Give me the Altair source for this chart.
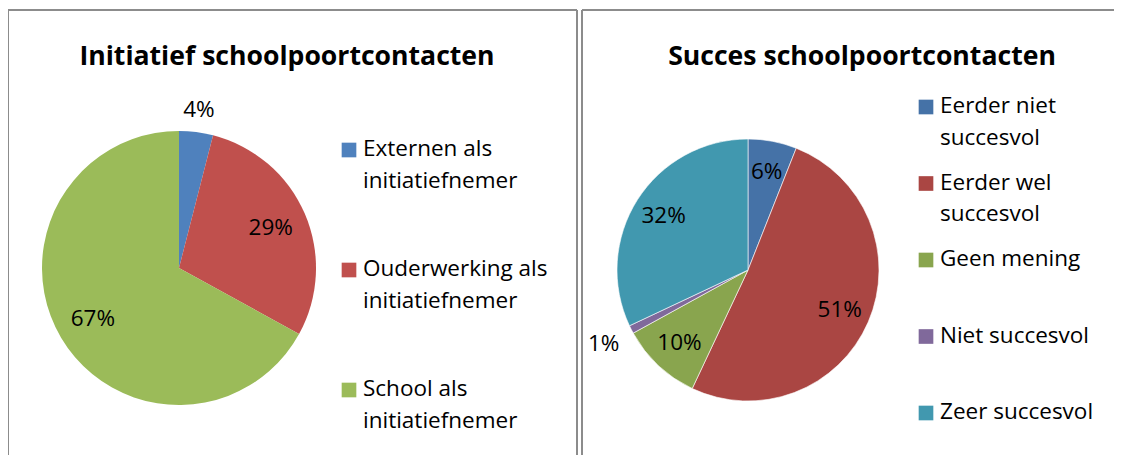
import altair as alt
import pandas as pd

FONT = "Open Sans"

# ---- data ----
left_title = "Initiatief schoolpoortcontacten"
left_cats = ["Externen als initiatiefnemer", "Ouderwerking als initiatiefnemer", "School als initiatiefnemer"]
left_lines = ["Externen als|initiatiefnemer", "Ouderwerking als|initiatiefnemer", "School als|initiatiefnemer"]
left_vals = [4, 29, 67]
left_colors = ["#4F81BD", "#C0504D", "#9BBB59"]

right_title = "Succes schoolpoortcontacten"
right_cats = ["Eerder niet succesvol", "Eerder wel succesvol", "Geen mening", "Niet succesvol", "Zeer succesvol"]
right_lines = ["Eerder niet|succesvol", "Eerder wel|succesvol", "Geen mening", "Niet succesvol", "Zeer succesvol"]
right_vals = [6, 51, 10, 1, 32]
right_colors = ["#4572A7", "#AA4643", "#89A54E", "#80699B", "#4198AF"]

TWO_PI = 6.283185307


def panel(title, cats, lines, vals, colors, cx, cy, r, r_in, r_out,
          tx, ty, lx, ly_range, stroke_w):
    df = pd.DataFrame({"cat": cats, "lines": lines, "val": vals,
                       "idx": list(range(len(cats)))})
    df["lbl"] = df["val"].astype(str) + "%"
    base = alt.Chart(df)
    color = alt.Color("cat:N", scale=alt.Scale(domain=cats, range=colors), legend=None)
    tscale = alt.Scale(domain=[0, 100], range=[0, TWO_PI])
    order = alt.Order("idx:Q")

    pie = base.mark_arc(stroke="white", strokeWidth=stroke_w).encode(
        theta=alt.Theta("val:Q", stack=True, scale=tscale), color=color, order=order,
        x=alt.value(cx), y=alt.value(cy), radius=alt.value(r))

    lab_base = base.transform_window(
        cum="sum(val)", sort=[alt.SortField("idx")], frame=[None, 0]
    ).transform_calculate(mid="datum.cum - datum.val / 2")
    theta_mid = alt.Theta("mid:Q", stack=False, scale=tscale)
    lab_in = lab_base.transform_filter("datum.val >= 5").mark_text(
        font=FONT, fontSize=22.5, color="black").encode(
        theta=theta_mid, text="lbl:N",
        x=alt.value(cx), y=alt.value(cy), radius=alt.value(r_in))
    lab_out = lab_base.transform_filter("datum.val < 5").mark_text(
        font=FONT, fontSize=22.5, color="black").encode(
        theta=theta_mid, text="lbl:N",
        x=alt.value(cx), y=alt.value(cy), radius=alt.value(r_out))

    yleg = alt.Y("cat:N", sort=cats, axis=None,
                 scale=alt.Scale(domain=cats, range=ly_range, padding=0))
    leg_sq = base.mark_square(size=215, opacity=1).encode(
        x=alt.value(lx), y=yleg, color=color)
    leg_tx = base.mark_text(font=FONT, fontSize=22.5, align="left", baseline="top",
                            lineBreak="|", lineHeight=31.5, dy=-12, color="black").encode(
        x=alt.value(lx + 14), y=yleg, text="lines:N")

    tdf = pd.DataFrame({"t": [title]})
    ttl = alt.Chart(tdf).mark_text(font=FONT, fontSize=26.6, fontWeight="bold",
                                   color="black").encode(
        x=alt.value(tx), y=alt.value(ty), text="t:N")
    return [pie, lab_in, lab_out, leg_sq, leg_tx, ttl]


# panel borders
bdf = pd.DataFrame({"b": [0]})
borders = []
for (x1, y1, x2, y2) in [(0, 2, 0, 460), (0, 2, 569, 2), (569, 2, 569, 460),
                         (574, 2, 574, 460), (574, 2, 1106, 2)]:
    borders.append(alt.Chart(bdf).mark_rule(color="#8c8c8c", strokeWidth=2).encode(
        x=alt.value(x1), y=alt.value(y1), x2=alt.value(x2), y2=alt.value(y2)))

left = panel(left_title, left_cats, left_lines, left_vals, left_colors,
             cx=171, cy=260, r=137, r_in=100, r_out=159,
             tx=279, ty=49, lx=341, ly_range=[142, 382], stroke_w=0)
right = panel(right_title, right_cats, right_lines, right_vals, right_colors,
              cx=740, cy=262, r=131, r_in=100, r_out=162,
              tx=854, ty=49, lx=918, ly_range=[99, 405], stroke_w=0.6)

chart = alt.layer(*borders, *left, *right).resolve_scale(
    color="independent", y="independent", theta="independent"
).configure_view(stroke=None).properties(
    width=1106, height=447, padding=0, autosize="none", background="white")

chart.save("out.html", embed_options={"renderer": "svg", "actions": False})
